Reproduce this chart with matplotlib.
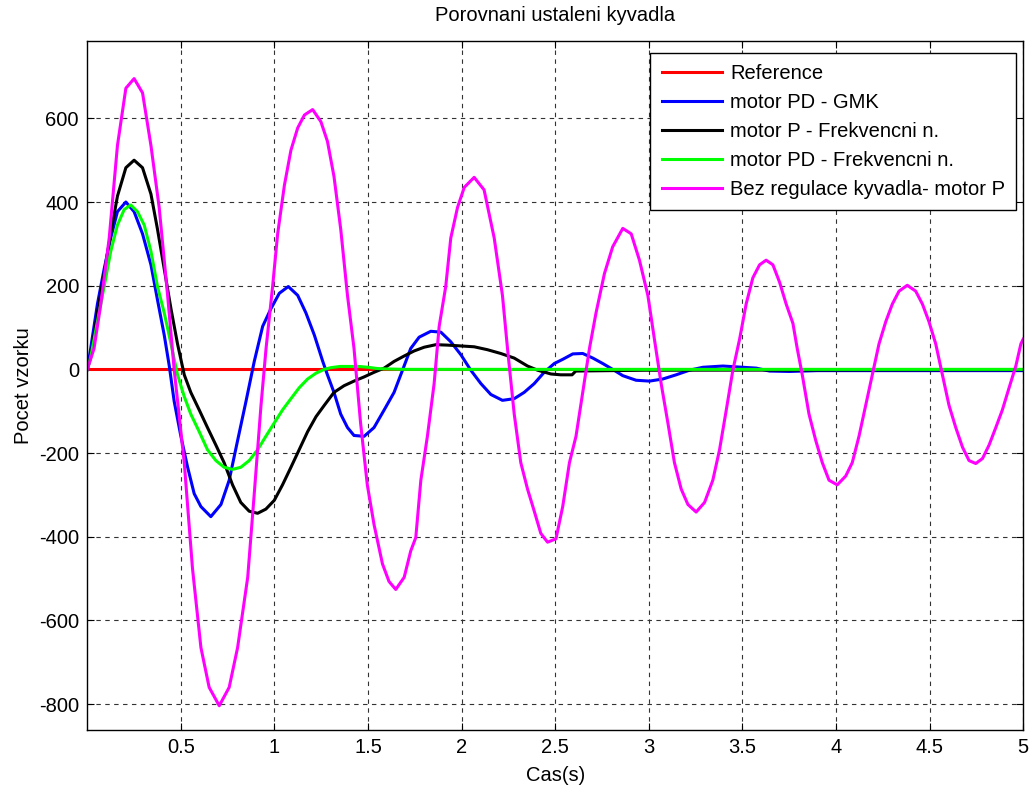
import matplotlib
matplotlib.use('Agg')
import matplotlib.pyplot as plt

plt.rcParams['font.family'] = ['Liberation Sans', 'DejaVu Sans']
plt.rcParams['axes.unicode_minus'] = False

# Reference
t_ref = [0, 5]
y_ref = [0, 0]

# motor PD - GMK
t_gmk = [0, 0.018, 0.054, 0.09, 0.125, 0.161, 0.206, 0.25, 0.295, 0.34, 0.375, 0.411, 0.438,
         0.464, 0.5, 0.536, 0.571, 0.607, 0.66, 0.714, 0.758, 0.803, 0.848, 0.892, 0.937,
         0.981, 1.026, 1.074, 1.124, 1.168, 1.213, 1.258, 1.283, 1.318, 1.354, 1.39, 1.425,
         1.479, 1.532, 1.586, 1.639, 1.684, 1.728, 1.773, 1.835, 1.889, 1.942, 1.996, 2.049,
         2.103, 2.156, 2.218, 2.281, 2.334, 2.388, 2.441, 2.495, 2.54, 2.594, 2.647, 2.701,
         2.754, 2.807, 2.861, 2.932, 3.004, 3.075, 3.146, 3.217, 3.289, 3.396, 3.467, 3.574,
         3.645, 3.752, 3.9, 4.5, 5.0]
y_gmk = [0, 50, 156, 240, 314, 377, 400, 377, 324, 250, 166, 82, 8,
         -76, -160, -234, -297, -328, -352, -323, -265, -170, -76, 19, 103,
         145, 182, 198, 177, 135, 82, 19, -13, -55, -107, -139, -158,
         -160, -139, -97, -55, -2, 50, 77, 91, 89, 66, 35, -2,
         -34, -60, -74, -70, -55, -34, -7, 14, 24, 37, 38, 27,
         14, 0, -15, -26, -28, -23, -13, -2, 5, 8, 6, 3,
         -4, -5, -3, -3, -3]

# motor P - Frekvencni n.
t_p = [0, 0.018, 0.054, 0.09, 0.125, 0.161, 0.206, 0.25, 0.295, 0.34, 0.375, 0.411, 0.447,
       0.482, 0.518, 0.553, 0.598, 0.642, 0.687, 0.731, 0.776, 0.82, 0.865, 0.91, 0.954,
       0.999, 1.043, 1.088, 1.132, 1.177, 1.222, 1.266, 1.318, 1.372, 1.425, 1.479, 1.532,
       1.586, 1.639, 1.693, 1.746, 1.8, 1.862, 1.924, 1.996, 2.067, 2.138, 2.209, 2.281,
       2.352, 2.406, 2.477, 2.53, 2.59, 2.61, 2.98, 5.0]
y_p = [0, 29, 135, 229, 324, 414, 482, 500, 482, 419, 335, 240, 145,
       61, -13, -55, -97, -139, -181, -223, -276, -318, -339, -344, -334,
       -313, -276, -234, -192, -149, -113, -86, -55, -39, -28, -18, -7,
       3, 19, 32, 44, 53, 59, 58, 56, 54, 47, 38, 27,
       8, -2, -11, -13, -13, -4, -2, -1]

# motor PD - Frekvencni n.
t_pd = [0, 0.018, 0.054, 0.09, 0.125, 0.161, 0.197, 0.232, 0.268, 0.304, 0.34, 0.375, 0.411,
        0.447, 0.482, 0.518, 0.553, 0.598, 0.642, 0.687, 0.731, 0.776, 0.82, 0.865, 0.91,
        0.954, 0.999, 1.043, 1.088, 1.132, 1.177, 1.222, 1.266, 1.3, 1.35, 1.45, 1.5,
        1.55, 1.6, 1.7, 5.0]
y_pd = [0, 29, 114, 198, 282, 345, 382, 393, 377, 345, 282, 198, 135,
        61, -13, -65, -107, -149, -192, -218, -234, -239, -234, -218, -192,
        -160, -128, -97, -70, -44, -23, -9, 0, 4, 7, 7, 5,
        2, 1, 0, 0]

# Bez regulace kyvadla- motor P
t_bez = [0, 0.036, 0.072, 0.117, 0.161, 0.206, 0.25, 0.295, 0.34, 0.384, 0.429, 0.464, 0.518,
         0.562, 0.607, 0.651, 0.705, 0.758, 0.803, 0.857, 0.892, 0.928, 0.955, 0.99, 1.017,
         1.053, 1.088, 1.124, 1.16, 1.204, 1.248, 1.283, 1.318, 1.354, 1.39, 1.425, 1.46,
         1.496, 1.532, 1.577, 1.612, 1.648, 1.693, 1.728, 1.755, 1.782, 1.817, 1.853, 1.88,
         1.915, 1.942, 1.978, 2.014, 2.067, 2.12, 2.174, 2.218, 2.245, 2.281, 2.316, 2.352,
         2.388, 2.423, 2.459, 2.504, 2.54, 2.576, 2.611, 2.647, 2.683, 2.718, 2.763, 2.807,
         2.861, 2.906, 2.95, 2.995, 3.03, 3.066, 3.102, 3.137, 3.173, 3.209, 3.253, 3.298,
         3.342, 3.378, 3.414, 3.449, 3.485, 3.52, 3.556, 3.592, 3.627, 3.663, 3.699, 3.734,
         3.77, 3.793, 3.82, 3.856, 3.892, 3.927, 3.963, 4.007, 4.052, 4.087, 4.123, 4.159,
         4.194, 4.23, 4.266, 4.301, 4.337, 4.381, 4.426, 4.462, 4.497, 4.533, 4.569, 4.604,
         4.64, 4.676, 4.711, 4.747, 4.783, 4.818, 4.854, 4.889, 4.925, 4.961, 4.988, 5.0]
y_bez = [0, 50, 156, 314, 535, 672, 695, 661, 535, 387, 177, 0, -223,
         -476, -665, -760, -804, -760, -665, -497, -297, -86, 50, 198, 324,
         440, 524, 577, 608, 621, 592, 545, 461, 335, 177, 50, -128,
         -276, -371, -465, -507, -526, -497, -434, -402, -265, -160, -34, 103,
         198, 314, 387, 435, 459, 429, 314, 177, 50, -107, -223, -286,
         -339, -392, -413, -405, -328, -223, -160, -55, 50, 135, 229, 293,
         337, 324, 261, 177, 72, -34, -128, -223, -286, -323, -341, -318,
         -265, -192, -97, -2, 72, 156, 219, 250, 261, 250, 208, 156,
         110, 50, -13, -107, -170, -223, -265, -276, -255, -223, -160, -86,
         -13, 61, 114, 156, 187, 201, 187, 156, 114, 61, -13, -86,
         -139, -186, -218, -225, -213, -181, -139, -97, -44, 8, 61, 72]

x_ticks = [0.5, 1, 1.5, 2, 2.5, 3, 3.5, 4, 4.5, 5]
x_labels = ['0.5', '1', '1.5', '2', '2.5', '3', '3.5', '4', '4.5', '5']
y_ticks = [-800, -600, -400, -200, 0, 200, 400, 600]

fs = 14.5

fig = plt.figure(figsize=(10.32, 7.87), dpi=100)
ax = fig.add_axes([0.0846, 0.0724, 0.9068, 0.8761])

lw = 2.2
ax.plot(t_ref, y_ref, color='#ff0000', lw=lw, label='Reference')
ax.plot(t_gmk, y_gmk, color='#0000ff', lw=lw, label='motor PD - GMK')
ax.plot(t_p, y_p, color='#000000', lw=lw, label='motor P - Frekvencni n.')
ax.plot(t_pd, y_pd, color='#00ff00', lw=lw, label='motor PD - Frekvencni n.')
ax.plot(t_bez, y_bez, color='#ff00ff', lw=lw, label='Bez regulace kyvadla- motor P')

ax.set_xlim(0, 5)
ax.set_ylim(-862, 786)
ax.set_xticks(x_ticks)
ax.set_xticklabels(x_labels)
ax.set_yticks(y_ticks)
ax.tick_params(direction='in', top=True, right=True, length=5, labelsize=fs, pad=6)
ax.grid(True, color='0.2', linestyle=(0, (4, 4)), linewidth=0.8)
for s in ax.spines.values():
    s.set_linewidth(1.0)

ax.set_title('Porovnani ustaleni kyvadla', fontsize=fs, pad=14)
ax.set_xlabel('Cas(s)', fontsize=fs, labelpad=6)
ax.set_ylabel('Pocet vzorku', fontsize=fs, labelpad=4)

leg = ax.legend(loc='upper right', bbox_to_anchor=(0.9925, 0.9819), borderaxespad=0,
                fontsize=fs, fancybox=False, framealpha=1, edgecolor='black',
                handlelength=3.0, handletextpad=0.4, labelspacing=0.5, borderpad=0.55)
leg.get_frame().set_linewidth(1.0)

plt.savefig('out.png', dpi=100)
